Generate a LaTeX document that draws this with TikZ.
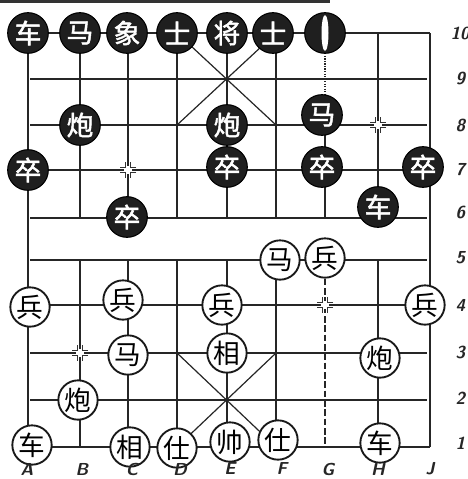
\documentclass[tikz,border=0pt]{standalone}
\usepackage{fontspec}
\newfontfamily\cjk{Noto Sans CJK SC}[AutoFakeBold=1.8]
\begin{document}
\begin{tikzpicture}[x=0.75pt,y=-0.75pt,
  bp/.style={circle,fill=black!88,draw=black,line width=0.8pt,minimum size=30.5pt,inner sep=0pt,text=white,font=\cjk\bfseries\fontsize{20}{20}\selectfont},
  rp/.style={circle,fill=white,draw=black!90,line width=1.4pt,minimum size=29.5pt,inner sep=0pt,font=\cjk\fontsize{20}{20}\selectfont},
  gridline/.style={line width=0.9pt,black!85},
  borderline/.style={line width=2pt,black!85},
  lab/.style={font=\sffamily\itshape\bfseries\fontsize{13}{13}\selectfont,text=black!85},
  mk/.pic={
    \fill[white] (-4,-4) rectangle (4,4);
    \foreach \sx in {-1,1}{\foreach \sy in {-1,1}{
      \draw[line width=0.7pt,black!80] (\sx*8,\sy*2.5) -- (\sx*2.5,\sy*2.5) -- (\sx*2.5,\sy*8);}}
  }]
\useasboundingbox (0,0) rectangle (468,479);
\fill[white] (0,0) rectangle (468,479);
\fill[black!80] (0,0) rectangle (330,2.5);
% horizontal grid lines
\foreach \y in {79,125,170,218,260,305,353,400}
  \draw[gridline] (30,\y) -- (427,\y);
\draw[gridline,line width=1.2pt] (28,33) -- (430,33);
\draw[gridline,line width=1.2pt] (28,447) -- (430,447);
% borders
\draw[borderline] (28,33) -- (28,447);
\draw[borderline] (430,33) -- (430,447);
% inner verticals
\foreach \x in {80,128,177,227,276,378}{
  \draw[gridline] (\x,33) -- (\x,218);
  \draw[gridline] (\x,260) -- (\x,447);}
\draw[gridline,densely dotted] (325,33) -- (325,125);
\draw[gridline] (325,125) -- (325,218);
\draw[gridline,dash pattern=on 5pt off 2pt] (325,260) -- (325,447);
% palaces
\draw[gridline] (177,33) -- (276,125) (276,33) -- (177,125);
\draw[gridline] (177,353) -- (276,447) (276,353) -- (177,447);
% position marks
\pic at (128,170) {mk};
\pic at (378,125) {mk};
\pic at (80,353) {mk};
\pic at (325,305) {mk};
% black pieces
\node[bp] (a10) at (28,33) {车};
\node[bp] (b10) at (80,33) {马};
\node[bp] (c10) at (127,33) {象};
\node[bp] (d10) at (177,33) {士};
\node[bp] (e10) at (227,33) {将};
\node[bp] (f10) at (273,33) {士};
\node[bp] (g10) at (325,33) {};
\fill[white] (g10.center) ellipse (3.5 and 18);
\node[bp] (b8) at (80,125) {炮};
\node[bp] (e8) at (227,125) {炮};
\node[bp] (g8) at (322,115) {马};
\node[bp] (a7) at (28,170) {卒};
\node[bp] (e7) at (227,167) {卒};
\node[bp] (g7) at (322,167) {卒};
\node[bp] (j7) at (423,167) {卒};
\node[bp] (c6) at (127,217) {卒};
\node[bp] (h6) at (378,207) {车};
% red pieces
\node[rp] (f5) at (280,260) {马};
\node[rp] (g5) at (325,258) {兵};
\node[rp] (a4) at (30,307) {兵};
\node[rp] (c4) at (123,300) {兵};
\node[rp] (e4) at (222,305) {兵};
\node[rp] (j4) at (425,305) {兵};
\node[rp] (c3) at (128,355) {马};
\node[rp] (e3) at (227,353) {相};
\node[rp] (h3) at (380,358) {炮};
\node[rp] (b2) at (78,400) {炮};
\node[rp] (a1) at (32,445) {车};
\node[rp] (c1) at (130,447) {相};
\node[rp] (d1) at (177,448) {仕};
\node[rp] (e1) at (230,442) {帅};
\node[rp] (f1) at (278,440) {仕};
\node[rp] (h1) at (380,443) {车};
% rank labels
\foreach \r/\y in {9/78,8/125,7/170,6/212,5/258,4/305,3/352,2/398,1/443}
  \node[lab,anchor=west] (r\r) at (451,\y) {\r};
\node[lab,anchor=west] (r10) at (446,33) {10};
% file labels
\foreach \f/\x in {A/27,B/82,C/132,D/180,E/230,F/282,G/328,H/378,J/430}
  \node[lab] (f\f) at (\x,469) {\f};
\end{tikzpicture}
\end{document}
